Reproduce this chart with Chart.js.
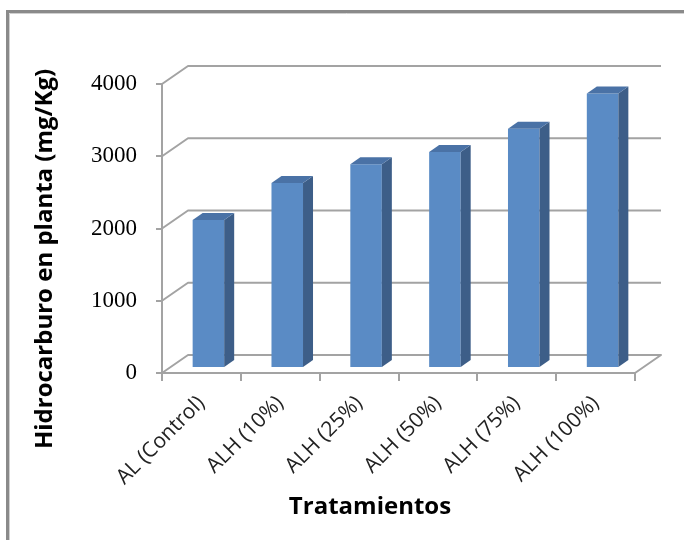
<!DOCTYPE html>
<html>
<head>
<meta charset="utf-8">
<script src="https://cdn.jsdelivr.net/npm/chart.js@4.4.1/dist/chart.umd.min.js"></script>
<style>
  html, body { margin: 0; padding: 0; background: #ffffff; }
  #wrap { position: relative; width: 684px; height: 540px; }
</style>
</head>
<body>
<div id="wrap"><canvas id="c" width="684" height="540"></canvas></div>
<script>
// Treatments and measured hydrocarbon content in plant (mg/Kg)
const categories = ['AL (Control)', 'ALH (10%)', 'ALH (25%)', 'ALH (50%)', 'ALH (75%)', 'ALH (100%)'];
const values = [2050, 2560, 2820, 2990, 3310, 3800];
const yTicks = [0, 1000, 2000, 3000, 4000];
const yTitle = 'Hidrocarburo en planta (mg/Kg)';
const xTitle = 'Tratamientos';

// Look of the 3-D column chart
const FRONT = '#5a8bc5';
const SIDE = '#3d5e88';
const TOP = '#4a72a6';
const GRID = '#a3a3a3';
const WALL_DX = 26, WALL_DY = -18;   // depth of the back wall
const BAR_DX = 7, BAR_DY = -5;       // where the column fronts sit in depth
const COL_DX = 10, COL_DY = -7;      // depth of each column

const wallPlugin = {
  id: 'wall3d',
  beforeDraw(chart) {
    const ctx = chart.ctx;
    ctx.save();
    // outer frame
    ctx.strokeStyle = '#8a8a8a';
    ctx.lineWidth = 3;
    ctx.beginPath();
    ctx.moveTo(7.5, 540);
    ctx.lineTo(7.5, 11.5);
    ctx.lineTo(684, 11.5);
    ctx.stroke();
    ctx.strokeStyle = '#d0d0d0';
    ctx.lineWidth = 1;
    ctx.beginPath();
    ctx.moveTo(9.5, 540);
    ctx.lineTo(9.5, 13.5);
    ctx.lineTo(684, 13.5);
    ctx.stroke();
    ctx.restore();
  },
  beforeDatasetsDraw(chart) {
    const ctx = chart.ctx;
    const y = chart.scales.y;
    const { left, right, bottom } = chart.chartArea;
    ctx.save();
    ctx.strokeStyle = GRID;
    ctx.lineWidth = 2;
    ctx.lineJoin = 'round';
    yTicks.forEach(v => {
      const py = y.getPixelForValue(v);
      ctx.beginPath();
      ctx.moveTo(left, py);
      ctx.lineTo(left + WALL_DX, py + WALL_DY);
      ctx.lineTo(right + WALL_DX, py + WALL_DY);
      if (v === 0) ctx.lineTo(right, bottom);
      ctx.stroke();
    });
    ctx.restore();
    // column fronts are drawn one step into the depth
    ctx.save();
    ctx.translate(BAR_DX, BAR_DY);
  },
  afterDatasetsDraw(chart) {
    const ctx = chart.ctx;
    const meta = chart.getDatasetMeta(0);
    meta.data.forEach(bar => {
      const p = bar.getProps(['x', 'y', 'base', 'width'], true);
      const l = p.x - p.width / 2, r = p.x + p.width / 2;
      // side face
      ctx.fillStyle = SIDE;
      ctx.beginPath();
      ctx.moveTo(r, p.y);
      ctx.lineTo(r + COL_DX, p.y + COL_DY);
      ctx.lineTo(r + COL_DX, p.base + COL_DY);
      ctx.lineTo(r, p.base);
      ctx.closePath();
      ctx.fill();
      // top face
      ctx.fillStyle = TOP;
      ctx.beginPath();
      ctx.moveTo(l, p.y);
      ctx.lineTo(l + COL_DX, p.y + COL_DY);
      ctx.lineTo(r + COL_DX, p.y + COL_DY);
      ctx.lineTo(r, p.y);
      ctx.closePath();
      ctx.fill();
    });
    ctx.restore();
  },
  afterDraw(chart) {
    const ctx = chart.ctx;
    ctx.save();
    ctx.fillStyle = '#000000';
    ctx.font = 'bold 24px "Open Sans"';
    ctx.textAlign = 'center';
    ctx.textBaseline = 'middle';
    ctx.fillText(xTitle, 370, 507);
    ctx.translate(45, 259);
    ctx.rotate(-Math.PI / 2);
    ctx.fillText(yTitle, 0, 0);
    ctx.restore();
  }
};

new Chart(document.getElementById('c'), {
  type: 'bar',
  data: {
    labels: categories,
    datasets: [{
      data: values,
      backgroundColor: FRONT,
      borderWidth: 0,
      categoryPercentage: 1.0,
      barPercentage: 0.40
    }]
  },
  options: {
    responsive: false,
    animation: false,
    layout: { padding: { left: 0, top: 84, right: 49, bottom: 0 } },
    plugins: { legend: { display: false }, tooltip: { enabled: false } },
    scales: {
      x: {
        offset: true,
        afterFit(s) { s.height = 167; },
        grid: { drawOnChartArea: false, drawTicks: true, tickLength: 8, color: GRID, lineWidth: 2, offset: true },
        border: { display: true, color: GRID, width: 2 },
        ticks: {
          autoSkip: false, minRotation: 45, maxRotation: 45, padding: 10,
          color: '#222222', font: { family: '"Open Sans"', size: 21 }
        }
      },
      y: {
        min: 0, max: 4000,
        afterFit(s) { s.width = 162; },
        afterBuildTicks(s) { s.ticks = yTicks.map(v => ({ value: v })); },
        grid: { drawOnChartArea: false, drawTicks: true, tickLength: 6, color: GRID, lineWidth: 2 },
        border: { display: true, color: GRID, width: 2 },
        ticks: {
          padding: 19, color: '#000000',
          callback: v => String(v),
          font: { family: '"Liberation Serif"', size: 23 }
        }
      }
    }
  },
  plugins: [wallPlugin]
});
</script>
</body>
</html>
